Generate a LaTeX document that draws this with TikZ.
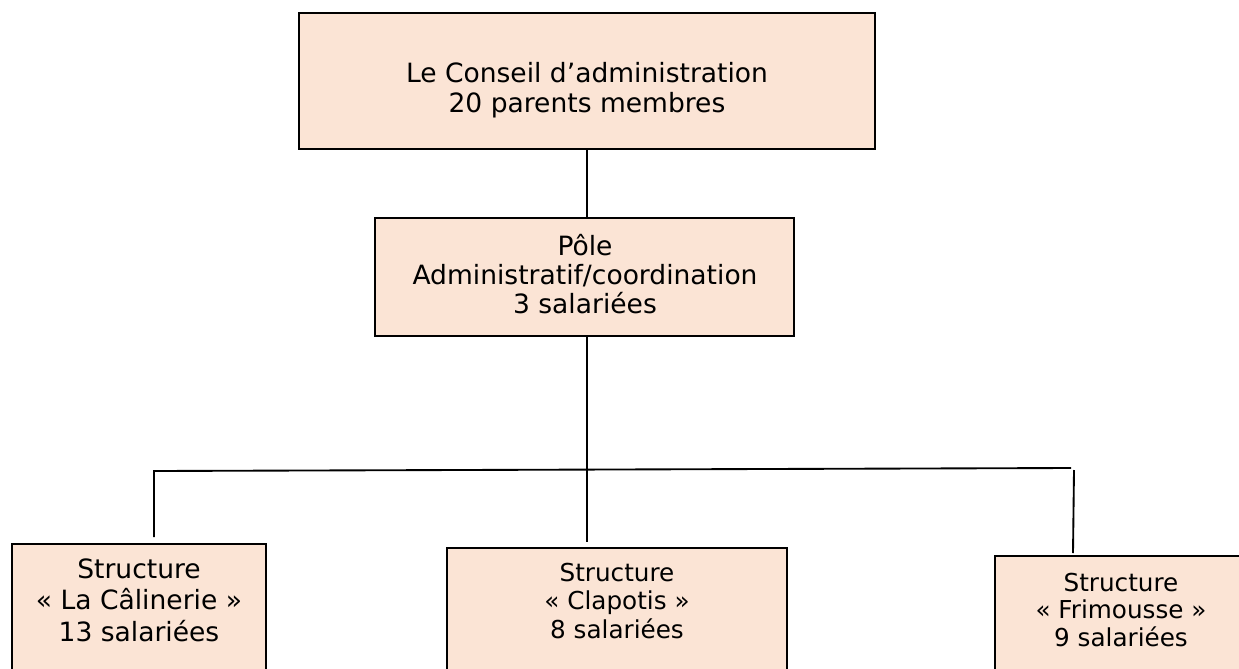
\documentclass[tikz,border=0pt]{standalone}
\usepackage{fontspec}
\setmainfont{DejaVu Sans}
\definecolor{peach}{HTML}{FBE4D5}
\begin{document}
\begin{tikzpicture}[x=0.75pt,y=-0.75pt,
  box/.style={draw=black, fill=peach, line width=1.4pt, inner sep=0pt},
  bigtxt/.style={align=center, inner sep=0pt, font=\fontsize{19.9}{22.5}\selectfont},
  smalltxt/.style={align=center, inner sep=0pt, font=\fontsize{18.5}{21.4}\selectfont},
  conn/.style={draw=black, line width=1.4pt}]
\fill[white] (0,0) rectangle (1239,668);
\useasboundingbox (0,0) rectangle (1239,668);
% boxes
\node[box, minimum width=576*0.75pt, minimum height=136*0.75pt] (top) at (587,81) {};
\node[box, minimum width=419*0.75pt, minimum height=118*0.75pt] (pole) at (584.5,277) {};
\node[box, minimum width=254*0.75pt, minimum height=128*0.75pt] (cal) at (139,608) {};
\node[box, minimum width=340*0.75pt, minimum height=124*0.75pt] (clap) at (617,610) {};
\node[box, minimum width=252*0.75pt, minimum height=116*0.75pt] (frim) at (1121,614) {};
% texts
\node[bigtxt] (topT) at (587,90) {Le Conseil d’administration\\20 parents membres};
\node[bigtxt, font=\fontsize{19.9}{21.75}\selectfont] (poleT) at (585,274) {Pôle\\Administratif/coordination\\3 salariées};
\node[bigtxt, font=\fontsize{19.9}{23.6}\selectfont] (calT) at (139,600) {Structure\\« La Câlinerie »\\13 salariées};
\node[smalltxt] (clapT) at (617,601) {Structure\\« Clapotis »\\8 salariées};
\node[smalltxt, font=\fontsize{18.5}{20.6}\selectfont] (frimT) at (1121,610) {Structure\\« Frimousse »\\9 salariées};
% connector points
\coordinate (midend) at (587,542);
\coordinate (hl) at (154,471);
\coordinate (hr) at (1071,468);
\coordinate (lend) at (154,537);
\coordinate (rtop) at (1074,470);
\coordinate (rend) at (1073,553);
% connectors
\draw[conn] (top.south) -- (top.south |- pole.north);
\draw[conn] (top.south |- pole.south) -- (midend);
\draw[conn] (lend) -- (hl) -- (hr);
\draw[conn] (rtop) -- (rend);
\end{tikzpicture}
\end{document}
